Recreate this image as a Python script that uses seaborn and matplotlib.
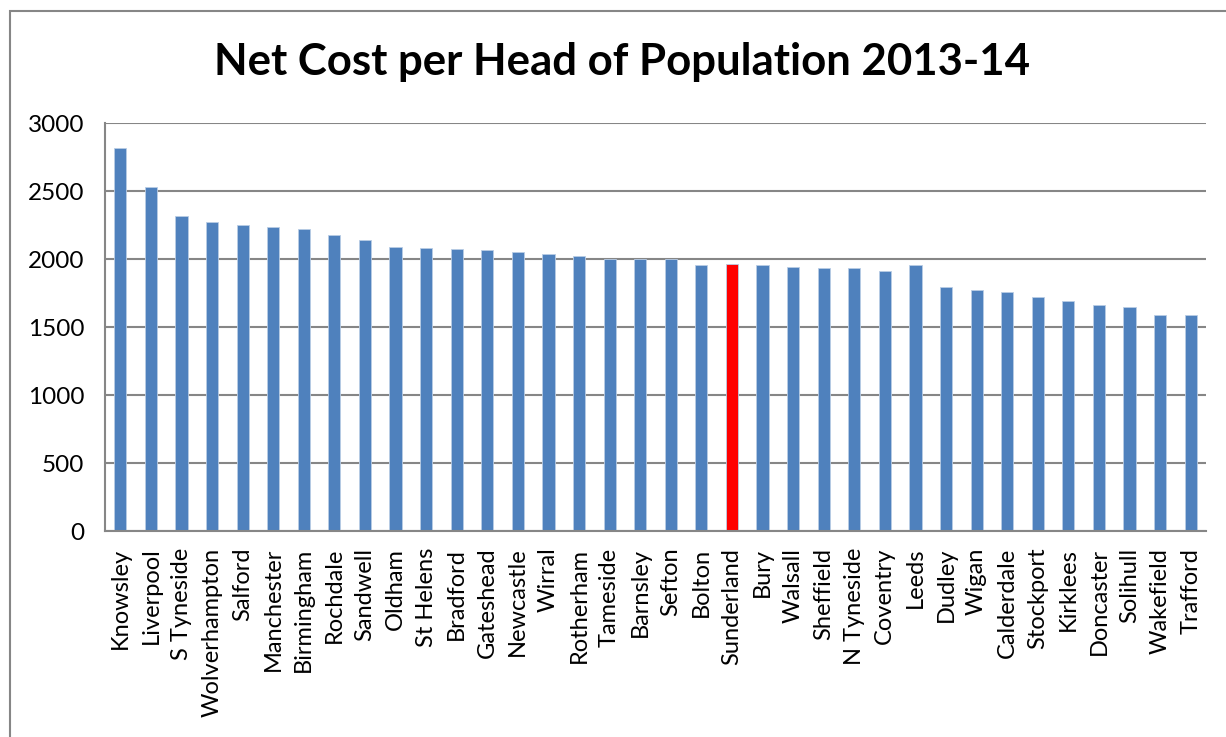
import numpy as np
import pandas as pd
import matplotlib
matplotlib.use("Agg")
import matplotlib.pyplot as plt
import seaborn as sns
from matplotlib.patches import Rectangle

authorities = ["Knowsley", "Liverpool", "S Tyneside", "Wolverhampton", "Salford",
               "Manchester", "Birmingham", "Rochdale", "Sandwell", "Oldham",
               "St Helens", "Bradford", "Gateshead", "Newcastle", "Wirral",
               "Rotherham", "Tameside", "Barnsley", "Sefton", "Bolton",
               "Sunderland", "Bury", "Walsall", "Sheffield", "N Tyneside",
               "Coventry", "Leeds", "Dudley", "Wigan", "Calderdale",
               "Stockport", "Kirklees", "Doncaster", "Solihull", "Wakefield",
               "Trafford"]
net_cost = [2816, 2529, 2318, 2272, 2248, 2235, 2221, 2176, 2140, 2086,
            2083, 2071, 2066, 2049, 2037, 2025, 2002, 2000, 2000, 1958,
            1963, 1953, 1941, 1936, 1931, 1912, 1953, 1797, 1772, 1755,
            1721, 1694, 1664, 1647, 1588, 1585]
highlight = "Sunderland"
yticks = [0, 500, 1000, 1500, 2000, 2500, 3000]

blue = "#4F81BD"
red = "#FF0000"
grey = "#868686"

df = pd.DataFrame({"authority": authorities, "cost": net_cost})
palette = {a: (red if a == highlight else blue) for a in authorities}

sns.set_theme(style="white")
plt.rcParams["font.family"] = ["Lato", "DejaVu Sans"]
plt.rcParams["text.color"] = "black"
plt.rcParams["xtick.color"] = "black"
plt.rcParams["ytick.color"] = "black"

fig = plt.figure(figsize=(12.26, 7.37), dpi=100)
W, H = 1226, 737
left, right, top, bottom = 105, 1206, 123, 531
ax = fig.add_axes([left / W, 1 - bottom / H, (right - left) / W, (bottom - top) / H])

sns.barplot(data=df, x="authority", y="cost", hue="authority", palette=palette,
            width=0.4, legend=False, ax=ax, edgecolor="#B9CDE5", linewidth=0.6,
            saturation=1)

ax.set_ylim(0, 3000)
ax.set_xlim(-0.5, len(authorities) - 0.5)
ax.set_yticks(yticks)
ax.set_yticklabels([str(v) for v in yticks], fontsize=17.5, color="black")
ax.yaxis.grid(True, color=grey, linewidth=1.5)
ax.set_axisbelow(True)
ax.set_xlabel("")
ax.set_ylabel("")

ax.set_xticks(range(len(authorities)))
ax.set_xticklabels(authorities, rotation=90, fontsize=17, va="top", color="black")
ax.set_xticks(np.arange(-0.5, len(authorities), 1), minor=True)
ax.tick_params(axis="x", which="major", length=0, pad=12)
ax.tick_params(axis="x", which="minor", length=8, width=1.5, color=grey, direction="out")
ax.tick_params(axis="y", which="major", length=8, width=1.5, color=grey, direction="out", pad=7)

for side in ["top", "right"]:
    ax.spines[side].set_visible(False)
for side in ["left", "bottom"]:
    ax.spines[side].set_color(grey)
    ax.spines[side].set_linewidth(1.5)

fig.text(0.5 * (215 + 1028) / W, 1 - 62 / H, "Net Cost per Head of Population 2013-14",
         ha="center", va="center", fontsize=31.5, fontweight="bold", color="black")

border = Rectangle((9.5 / W, -0.1), 1.2, 1 - 11 / H + 0.1, transform=fig.transFigure,
                   fill=False, edgecolor=grey, linewidth=1.5, zorder=0)
fig.patches.append(border)

fig.savefig("out.png", dpi=100)
